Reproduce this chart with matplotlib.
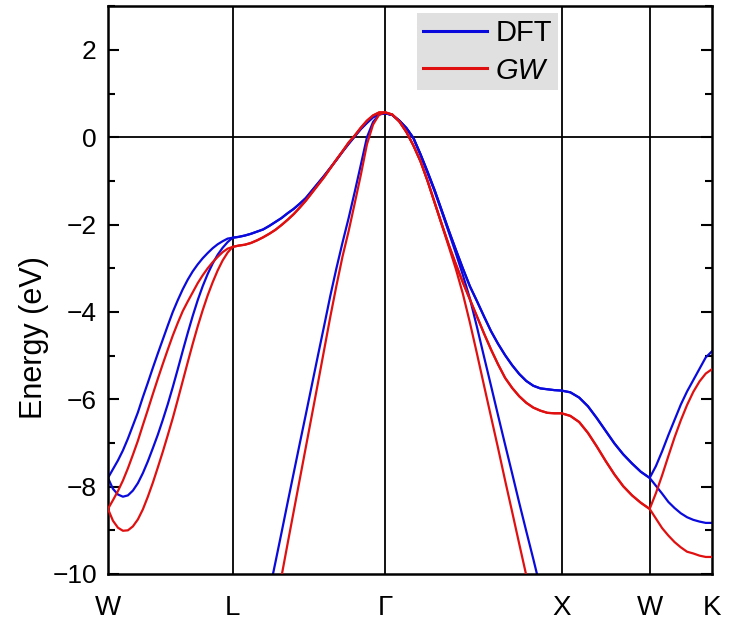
import numpy as np
import matplotlib
matplotlib.use('Agg')
import matplotlib.pyplot as plt
from matplotlib.ticker import MultipleLocator

plt.rcParams['font.family'] = ['Liberation Sans', 'DejaVu Sans']

# high symmetry points of the fcc path (units of 2pi/a)
kpt_labels = ['W', 'L', 'Γ', 'X', 'W', 'K']
kpt_pos = [0.0, 0.7071, 1.5731, 2.5731, 3.0731, 3.4267]

# sampling positions inside a segment (fraction of segment length)
frac25 = [0.00, 0.04, 0.08, 0.12, 0.16, 0.20, 0.24, 0.28, 0.32, 0.36, 0.40, 0.44, 0.48,
          0.52, 0.56, 0.60, 0.64, 0.68, 0.72, 0.76, 0.80, 0.84, 0.88, 0.92, 0.96, 1.00]
frac10 = [0.0, 0.1, 0.2, 0.3, 0.4, 0.5, 0.6, 0.7, 0.8, 0.9, 1.0]

# ---- DFT bands (eV) ----
dft_wl_1 = [-7.80, -7.60, -7.40, -7.17, -6.90, -6.60, -6.30, -5.95, -5.62, -5.28, -4.95, -4.63, -4.31,
            -4.00, -3.73, -3.48, -3.26, -3.07, -2.91, -2.77, -2.65, -2.54, -2.45, -2.38, -2.32, -2.30]
dft_wl_2 = [-7.80, -8.05, -8.18, -8.23, -8.20, -8.09, -7.92, -7.69, -7.42, -7.12, -6.81, -6.47, -6.11,
            -5.72, -5.31, -4.89, -4.48, -4.09, -3.73, -3.41, -3.13, -2.89, -2.69, -2.53, -2.40, -2.30]
dft_lg = [-2.30, -2.28, -2.25, -2.21, -2.16, -2.11, -2.03, -1.94, -1.85, -1.74, -1.64, -1.52, -1.39,
          -1.22, -1.05, -0.88, -0.70, -0.52, -0.33, -0.15, 0.02, 0.19, 0.33, 0.46, 0.53, 0.55]
dft_lg_steep = [-10.41, -9.74, -9.06, -8.37, -7.69, -7.01, -6.34, -5.66, -4.98, -4.31,
                -3.63, -3.00, -2.41, -1.85, -1.25, -0.63, 0.00, 0.35, 0.52, 0.55]
dft_gx = [0.55, 0.51, 0.38, 0.21, -0.02, -0.39, -0.79, -1.21, -1.67, -2.13, -2.57, -3.00, -3.41,
          -3.75, -4.10, -4.44, -4.73, -4.99, -5.22, -5.42, -5.58, -5.69, -5.75, -5.77, -5.79, -5.80]
dft_gx_steep = [0.55, 0.51, 0.38, 0.21, -0.02, -0.40, -0.82, -1.24, -1.70, -2.17, -2.65, -3.15,
                -3.69, -4.34, -5.02, -5.69, -6.37, -7.04, -7.70, -8.37, -9.02, -9.66, -10.32]
dft_xw = [-5.80, -5.84, -5.96, -6.16, -6.43, -6.72, -7.01, -7.26, -7.47, -7.66, -7.80]
dft_wk_up = [-7.80, -7.53, -7.19, -6.82, -6.47, -6.12, -5.82, -5.56, -5.30, -5.04, -4.90]
dft_wk_low = [-7.80, -7.98, -8.16, -8.35, -8.49, -8.61, -8.70, -8.76, -8.80, -8.83, -8.83]

# ---- GW bands (eV) ----
gw_wl_1 = [-8.51, -8.31, -8.10, -7.86, -7.58, -7.27, -6.95, -6.59, -6.24, -5.88, -5.53, -5.19, -4.86,
           -4.54, -4.25, -3.98, -3.76, -3.55, -3.34, -3.16, -3.00, -2.86, -2.74, -2.63, -2.55, -2.51]
gw_wl_2 = [-8.51, -8.78, -8.94, -9.01, -9.00, -8.91, -8.75, -8.52, -8.23, -7.91, -7.56, -7.20, -6.82,
           -6.43, -6.01, -5.58, -5.15, -4.73, -4.33, -3.96, -3.62, -3.32, -3.05, -2.82, -2.64, -2.51]
gw_lg = [-2.51, -2.48, -2.46, -2.42, -2.36, -2.29, -2.21, -2.12, -2.01, -1.89, -1.76, -1.61, -1.45,
         -1.27, -1.09, -0.91, -0.71, -0.51, -0.32, -0.12, 0.04, 0.22, 0.38, 0.50, 0.57, 0.57]
gw_lg_steep = [-10.77, -10.06, -9.31, -8.57, -7.83, -7.09, -6.35, -5.61, -4.86, -4.11,
               -3.40, -2.73, -2.15, -1.51, -0.86, -0.16, 0.29, 0.52, 0.57]
gw_gx = [0.57, 0.52, 0.36, 0.12, -0.19, -0.55, -1.00, -1.49, -1.98, -2.46, -2.90, -3.32, -3.71,
         -4.10, -4.49, -4.86, -5.20, -5.51, -5.74, -5.93, -6.08, -6.19, -6.26, -6.31, -6.32, -6.32]
gw_gx_steep = [0.57, 0.52, 0.36, 0.12, -0.19, -0.55, -1.00, -1.50, -2.00, -2.50, -3.01,
               -3.58, -4.24, -4.95, -5.68, -6.40, -7.12, -7.86, -8.58, -9.31, -10.03, -10.75]
gw_xw = [-6.32, -6.38, -6.52, -6.77, -7.08, -7.41, -7.72, -7.99, -8.20, -8.37, -8.51]
gw_wk_up = [-8.51, -8.15, -7.74, -7.30, -6.87, -6.48, -6.13, -5.83, -5.59, -5.41, -5.31]
gw_wk_low = [-8.51, -8.73, -8.95, -9.12, -9.27, -9.39, -9.49, -9.53, -9.58, -9.61, -9.61]


def seg_k(i, frac):
    # positions along segment i of the path
    k0, k1 = kpt_pos[i], kpt_pos[i + 1]
    return [k0 + f * (k1 - k0) for f in frac]


def band_lines(wl_1, wl_2, lg, lg_steep, gx, gx_steep, xw, wk_up, wk_low):
    k_main = seg_k(0, frac25) + seg_k(1, frac25) + seg_k(2, frac25) + seg_k(3, frac10) + seg_k(4, frac10)
    k_steep = seg_k(1, frac25[-len(lg_steep):]) + seg_k(2, frac25[:len(gx_steep)])
    return [
        (k_main, wl_1 + lg + gx + xw + wk_low),
        (k_main, wl_2 + lg + gx + xw + wk_up),
        (k_steep, lg_steep + gx_steep),
    ]


fig, ax = plt.subplots(figsize=(7.31, 6.28), dpi=100)
fig.subplots_adjust(left=0.1477, right=0.974, bottom=0.086, top=0.990)

for xv in kpt_pos[1:-1]:
    ax.axvline(xv, color='k', lw=1.3, zorder=1)
ax.axhline(0, color='k', lw=1.3, zorder=1)

dft = band_lines(dft_wl_1, dft_wl_2, dft_lg, dft_lg_steep, dft_gx, dft_gx_steep,
                 dft_xw, dft_wk_up, dft_wk_low)
gw = band_lines(gw_wl_1, gw_wl_2, gw_lg, gw_lg_steep, gw_gx, gw_gx_steep,
                gw_xw, gw_wk_up, gw_wk_low)

for n, (k, e) in enumerate(dft):
    ax.plot(k, e, color='#0a0adc', lw=1.6, zorder=2, label='DFT' if n == 0 else None)
for n, (k, e) in enumerate(gw):
    ax.plot(k, e, color='#e01010', lw=1.6, zorder=3, label='GW' if n == 0 else None)

ax.set_xlim(kpt_pos[0], kpt_pos[-1])
ax.set_ylim(-10, 3)
ax.set_xticks(kpt_pos)
ax.set_xticklabels(kpt_labels)
ax.set_yticks([-10, -8, -6, -4, -2, 0, 2])
ax.yaxis.set_minor_locator(MultipleLocator(1))
ax.tick_params(axis='y', which='both', direction='in', left=True, right=True,
               width=1.5, labelsize=19, pad=8)
ax.tick_params(axis='y', which='major', length=8)
ax.tick_params(axis='y', which='minor', length=5)
ax.tick_params(axis='x', length=0, labelsize=20, pad=15)
for sp in ax.spines.values():
    sp.set_linewidth(1.8)

ax.set_ylabel('Energy (eV)', fontsize=22)
ax.yaxis.set_label_coords(-0.098, 0.417)

leg = ax.legend(loc='upper left', bbox_to_anchor=(0.512, 0.988), borderaxespad=0,
                fontsize=21, handlelength=2.2, handletextpad=0.3, labelspacing=0.33,
                borderpad=0.2, frameon=True, fancybox=False, facecolor='#e0e0e0',
                edgecolor='none', framealpha=1)
leg.get_texts()[1].set_fontstyle('italic')
for line in leg.get_lines():
    line.set_linewidth(2.2)

fig.savefig('out.png', dpi=100)
